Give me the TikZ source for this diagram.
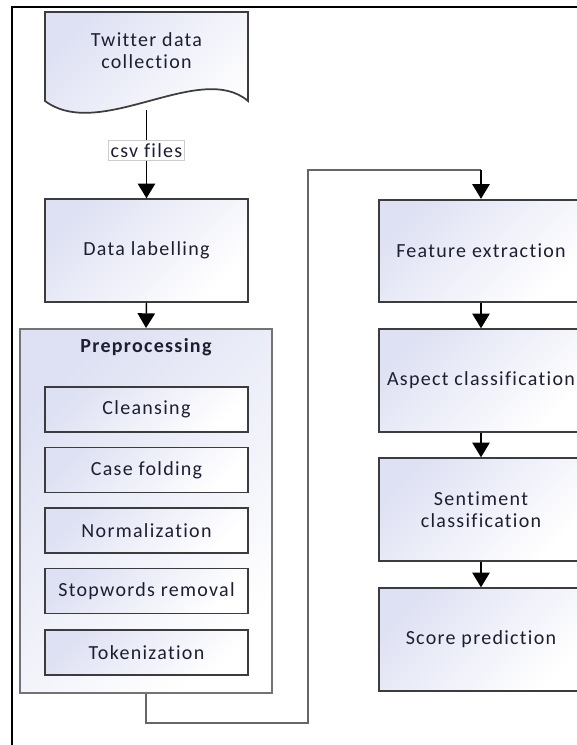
\documentclass[tikz,border=0pt]{standalone}
\usepackage{fontspec}
\setmainfont{Carlito}[Ligatures=NoCommon, LetterSpace=6.5]
\usetikzlibrary{arrows.meta}
\definecolor{lav}{RGB}{222,225,243}
\definecolor{txt}{RGB}{30,30,50}
\definecolor{bord}{RGB}{60,60,60}
\begin{document}
\begin{tikzpicture}[x=0.75pt,y=-0.75pt,
  shadebox/.style={draw=bord, line width=1.3pt, top color=lav, bottom color=white, shading angle=45,
    inner sep=0pt, align=center, text=txt, font=\fontsize{15}{16.5}\selectfont},
  bigbox/.style={shadebox, minimum width=152.5pt, minimum height=77pt},
  smallbox/.style={shadebox, minimum width=152.5pt, minimum height=33.75pt},
  container/.style={draw=black!55, line width=1.5pt, top color=lav, bottom color=white, shading angle=45,
    minimum width=189pt, minimum height=273pt, inner sep=0pt},
  plain/.style={align=center, text=txt, font=\fontsize{15}{16.5}\selectfont, inner sep=0pt},
  arr/.style={draw=black, line width=1.1pt, -{Triangle[length=11pt,width=13pt]}},
  link/.style={draw=black!60, line width=1.1pt}
]
\useasboundingbox (0,0) rectangle (577,745);
\clip (0,0) rectangle (577,745);
% outer frame
\draw[black, line width=1.6pt] (12,7) rectangle (700,800);
% document shape
\draw[draw=bord, line width=1.3pt, top color=lav, bottom color=white, shading angle=45]
  (45,12) -- (248,12) -- (248,101) .. controls (200,60) and (100,142) .. (45,101) -- cycle;
\node[plain] (doc) at (146.5,51) {Twitter data\\collection};
\coordinate (docbot) at (146.5,110);
% left column
\node[bigbox] (dl) at (146.5,250.5) {Data labelling};
\node[container] (pre) at (146,511) {};
\node[plain, font=\fontsize{15}{16.5}\selectfont\bfseries] (pretitle) at (146,347) {Preprocessing};
\node[smallbox] (c1) at (146.5,409.5) {Cleansing};
\node[smallbox] (c2) at (146.5,470) {Case folding};
\node[smallbox] (c3) at (146.5,530.5) {Normalization};
\node[smallbox] (c4) at (146.5,591) {Stopwords removal};
\node[smallbox] (c5) at (146.5,652.5) {Tokenization};
% right column
\node[bigbox] (fe) at (481,251) {Feature extraction};
\node[bigbox] (ac) at (481,380.5) {Aspect classification};
\node[bigbox] (sc) at (481,509.5) {Sentiment\\classification};
\node[bigbox] (sp) at (481,639.5) {Score prediction};
% csv label
\node[plain, draw=black!20, fill=white, line width=0.6pt, inner xsep=1.5pt, inner ysep=2pt] (csv) at (146.5,150.5) {csv files};
% connectors
\draw[line width=1.1pt] (docbot) -- (csv.north);
\draw[arr] (csv.south) -- (dl.north);
\draw[arr] (dl.south) -- (pre.north);
\coordinate (k1) at (146,723);
\coordinate (k2) at (308,723);
\coordinate (k3) at (308,170);
\coordinate (k4) at (481,170);
\draw[link] (pre.south) -- (k1) -- (k2) -- (k3) -- (k4);
\draw[arr] (k4) -- (fe.north);
\draw[arr] (fe.south) -- (ac.north);
\draw[arr] (ac.south) -- (sc.north);
\draw[arr] (sc.south) -- (sp.north);
\end{tikzpicture}
\end{document}
